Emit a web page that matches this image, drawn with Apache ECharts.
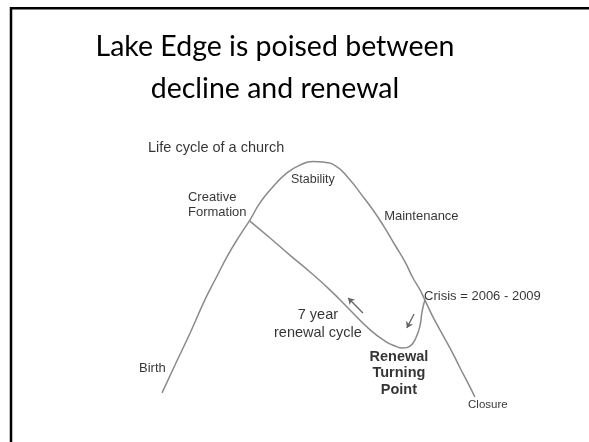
<!DOCTYPE html>
<html>
<head>
<meta charset="utf-8">
<script src="https://cdn.jsdelivr.net/npm/echarts@6/dist/echarts.min.js"></script>
<style>html,body{margin:0;padding:0;background:#fff}#c{width:589px;height:442px}</style>
</head>
<body>
<div id="c"></div>
<script>
// Life cycle curve: [time, vitality] (conceptual units 0-100)
var lifeCycle = [
  [8.9,3.6],[12.5,14.7],[16.7,27.4],[20.8,40.5],[23.6,48.4],[27.2,58.3],[30.6,66.3],
  [33.3,72.2],[36.1,79.0],[39.4,84.9],[43.6,90.9],[47.2,94.0],[50.8,95.4],[53.6,95.2],
  [57.2,93.6],[60.6,89.0],[64.4,82.1],[67.5,76.2],[70.3,70.2],[73.6,62.3],[76.4,55.6],
  [78.6,49.2],[80.6,44.4],[81.9,40.5],[83.9,34.5],[86.1,28.6],[88.9,21.4],[91.7,13.5],
  [93.9,7.5],[95.8,2.0]
];
// Renewal cycle branch
var renewalCycle = [
  [33.3,71.8],[38.9,65.1],[44.4,58.3],[50.0,51.6],[55.6,44.4],[61.1,36.5],[66.7,28.6],
  [70.8,24.2],[73.6,22.2],[75.8,21.4],[77.8,22.2],[79.4,25.4],[80.6,30.6],[81.1,35.7],
  [81.9,40.5]
];
// Direction arrows: [from, to]
var arrows = [
  [[64.7,35.3],[60.6,41.3]],
  [[78.9,34.9],[76.9,29.4]]
];
// Annotations anchored in chart units
var headLabels = [
  [5.0,100.8,'Life cycle of a church']
];
var leftLabels = [
  [16.1,78.4,'Creative\nFormation'],
  [70.6,73.8,'Maintenance'],
  [81.7,41.7,'Crisis = 2006 - 2009'],
  [2.5,13.5,'Birth']
];
var centerLabels = [
  [50.8,88.1,'Stability']
];
var cycleLabels = [
  [52.2,31.0,'7 year\nrenewal cycle']
];
var boldLabels = [
  [74.7,11.5,'Renewal\nTurning\nPoint']
];
var smallLabels = [
  [93.9,-1.2,'Closure']
];
var titleText = 'Lake Edge is poised between\ndecline and renewal';

var chart = echarts.init(document.getElementById('c'), null, {renderer:'canvas'});
var F = '"Liberation Sans", Arial, sans-serif';
function labelSeries(data, align, size, weight, lh) {
  return {
    type:'scatter', data:data, symbolSize:0, clip:false, silent:true,
    label:{show:true, position:'inside', align:align, verticalAlign:'middle',
      formatter:function(p){return p.data[2];},
      fontFamily:F, fontSize:size, fontWeight:weight, color:'#000', lineHeight:lh}
  };
}
chart.setOption({
  animation:false,
  backgroundColor:'#fff',
  title:{text:titleText, left:270, top:21, textAlign:'center',
    textStyle:{fontFamily:'Lato, "Open Sans", sans-serif', fontSize:28.5, fontWeight:'normal', color:'#000', lineHeight:42}},
  graphic:[{type:'rect', shape:{x:11, y:8.3, width:700, height:600},
    style:{fill:'none', stroke:'#000', lineWidth:2.5}, silent:true}],
  grid:{left:130, right:99, top:150, bottom:40},
  xAxis:{type:'value', min:0, max:100, show:false},
  yAxis:{type:'value', min:0, max:100, show:false},
  series:[
    {type:'line', data:lifeCycle, smooth:0.5, symbol:'none', clip:false,
      lineStyle:{color:'#8a8a8a', width:1.5}},
    {type:'line', data:renewalCycle, smooth:0.5, symbol:'none', clip:false,
      lineStyle:{color:'#8a8a8a', width:1.5}},
    {type:'lines', coordinateSystem:'cartesian2d', symbol:['none','arrow'], symbolSize:6,
      data:arrows.map(function(a){return {coords:a};}),
      lineStyle:{color:'#666', width:1.3, opacity:1}},
    labelSeries(headLabels,'left',14.5,'normal',16),
    labelSeries(leftLabels,'left',13,'normal',15),
    labelSeries(centerLabels,'center',12.5,'normal',16),
    labelSeries(cycleLabels,'center',14.5,'normal',18),
    labelSeries(boldLabels,'center',14.5,'bold',16.5),
    labelSeries(smallLabels,'left',11.5,'normal',14)
  ]
});
</script>
</body>
</html>
